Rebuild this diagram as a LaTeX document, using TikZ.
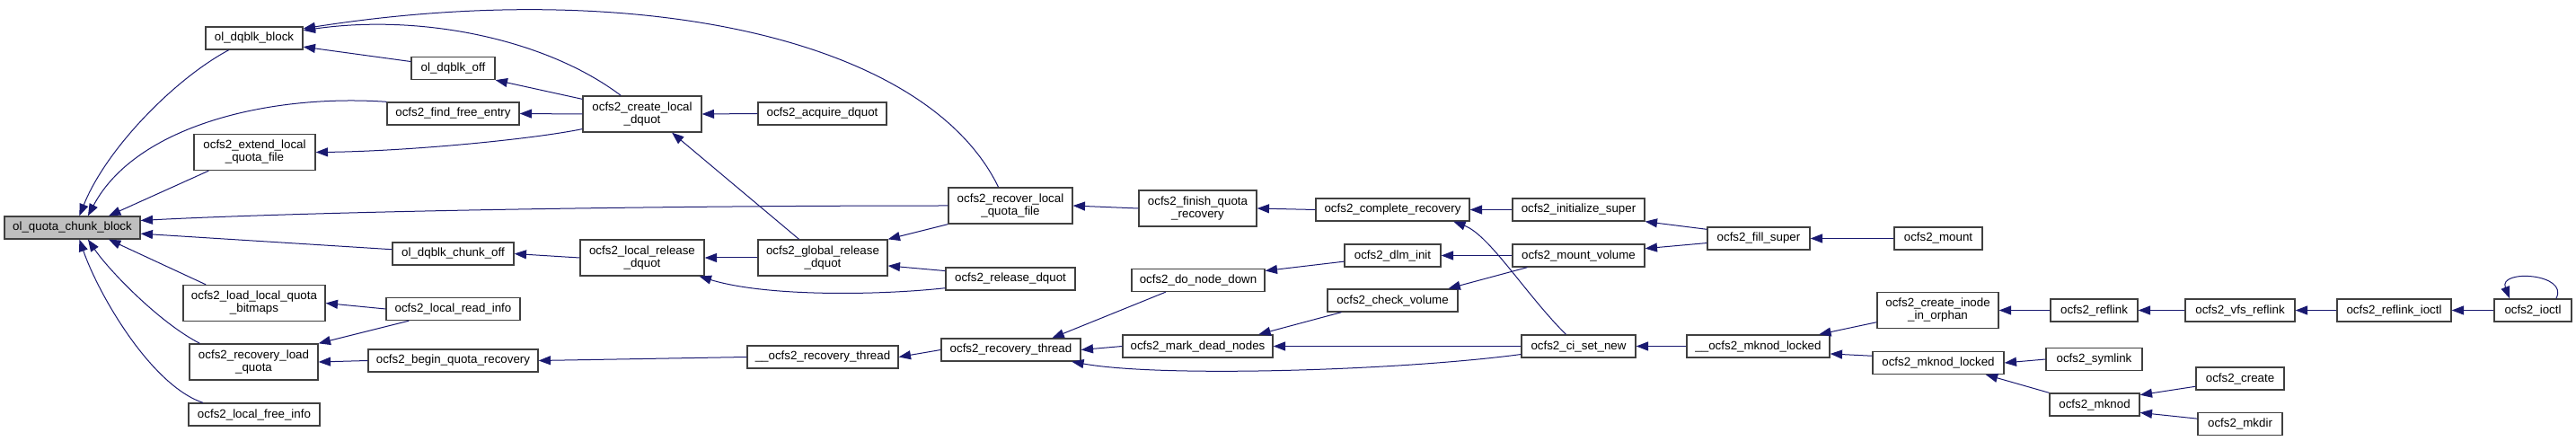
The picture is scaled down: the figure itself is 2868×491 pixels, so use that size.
\documentclass[tikz,border=0pt]{standalone}
\usepackage{fontspec}
\setmainfont{Liberation Sans}
\usetikzlibrary{arrows.meta}
\definecolor{edgeblue}{HTML}{191970}
\definecolor{boxline}{HTML}{404040}
\definecolor{rootgray}{HTML}{BFBFBF}
\begin{document}
\begin{tikzpicture}[x=0.75pt, y=-0.75pt,
    fn/.style={draw=boxline, line width=1pt, fill=white, inner sep=1pt,
      minimum height=18.75pt, align=center, font=\fontsize{10}{10.5}\selectfont},
    fn2/.style={fn, minimum height=30pt},
    wd/.style={minimum width=#1*0.75pt},
    call/.style={draw=edgeblue, line width=0.75pt, -{Triangle[length=10pt,width=7.5pt]}}]
    \useasboundingbox (0,0) rectangle (2868,491);
    \node[fn, wd=151, fill=rootgray] (qcb) at (80.5,253.5) {ol\_quota\_chunk\_block};
    \node[fn, wd=108] (dqblkblock) at (283,42.5) {ol\_dqblk\_block};
    \node[fn2, wd=135] (extendlocal) at (283.5,169.5) {ocfs2\_extend\_local\\\_quota\_file};
    \node[fn2, wd=158] (loadbitmaps) at (283,337.5) {ocfs2\_load\_local\_quota\\\_bitmaps};
    \node[fn2, wd=143] (recoveryload) at (282.5,403) {ocfs2\_recovery\_load\\\_quota};
    \node[fn, wd=146] (localfree) at (283,461.5) {ocfs2\_local\_free\_info};
    \node[fn, wd=93] (dqblkoff) at (504.5,76) {ol\_dqblk\_off};
    \node[fn, wd=147] (findfree) at (504.5,126.5) {ocfs2\_find\_free\_entry};
    \node[fn, wd=135] (chunkoff) at (504.5,282.5) {ol\_dqblk\_chunk\_off};
    \node[fn, wd=149] (readinfo) at (504.5,344) {ocfs2\_local\_read\_info};
    \node[fn, wd=189] (beginrec) at (504.5,401.5) {ocfs2\_begin\_quota\_recovery};
    \node[fn2, wd=132] (createlocal) at (715,127) {ocfs2\_create\_local\\\_dquot};
    \node[fn2, wd=138] (localrelease) at (715,287) {ocfs2\_local\_release\\\_dquot};
    \node[fn, wd=143] (acquire) at (915.5,126.5) {ocfs2\_acquire\_dquot};
    \node[fn2, wd=144] (globalrelease) at (916,287) {ocfs2\_global\_release\\\_dquot};
    \node[fn, wd=168] (recthreadb) at (916,397.5) {\_\_ocfs2\_recovery\_thread};
    \node[fn2, wd=138] (recoverlocal) at (1125,229) {ocfs2\_recover\_local\\\_quota\_file};
    \node[fn, wd=144] (release) at (1125,310.5) {ocfs2\_release\_dquot};
    \node[fn, wd=155] (recthread) at (1125.5,389.5) {ocfs2\_recovery\_thread};
    \node[fn2, wd=131] (finish) at (1333.5,232) {ocfs2\_finish\_quota\\\_recovery};
    \node[fn, wd=148] (nodedown) at (1334,312) {ocfs2\_do\_node\_down};
    \node[fn, wd=167] (markdead) at (1333.5,385.5) {ocfs2\_mark\_dead\_nodes};
    \node[fn, wd=171] (complete) at (1550.5,233.5) {ocfs2\_complete\_recovery};
    \node[fn, wd=107] (dlminit) at (1550.5,284.5) {ocfs2\_dlm\_init};
    \node[fn, wd=145] (checkvol) at (1550.5,334.5) {ocfs2\_check\_volume};
    \node[fn, wd=147] (initsuper) at (1757.5,233.5) {ocfs2\_initialize\_super};
    \node[fn, wd=147] (mountvol) at (1757.5,284.5) {ocfs2\_mount\_volume};
    \node[fn, wd=127] (cisetnew) at (1757.5,385.5) {ocfs2\_ci\_set\_new};
    \node[fn, wd=114] (fillsuper) at (1958,265.5) {ocfs2\_fill\_super};
    \node[fn, wd=159] (mknodlockedb) at (1957.5,385.5) {\_\_ocfs2\_mknod\_locked};
    \node[fn, wd=98] (mount) at (2158,265.5) {ocfs2\_mount};
    \node[fn2, wd=135] (orphan) at (2157.5,345.5) {ocfs2\_create\_inode\\\_in\_orphan};
    \node[fn, wd=146] (mknodlocked) at (2158,404) {ocfs2\_mknod\_locked};
    \node[fn, wd=97] (reflink) at (2331.5,345.5) {ocfs2\_reflink};
    \node[fn, wd=107] (symlink) at (2331.5,400) {ocfs2\_symlink};
    \node[fn, wd=100] (mknod) at (2332,450.5) {ocfs2\_mknod};
    \node[fn, wd=122] (vfsreflink) at (2494,345.5) {ocfs2\_vfs\_reflink};
    \node[fn, wd=98] (create) at (2494,421.5) {ocfs2\_create};
    \node[fn, wd=94] (mkdir) at (2494,472) {ocfs2\_mkdir};
    \node[fn, wd=127] (reflinkioctl) at (2665.5,345.5) {ocfs2\_reflink\_ioctl};
    \node[fn, wd=86] (ioctl) at (2820,345.5) {ocfs2\_ioctl};
    \draw[call] (dqblkblock.205) .. controls +(-60,32) and +(30,-75) .. (qcb.59);
    \draw[call] (findfree.north west) .. controls +(-131,-9) and +(53,-100) .. (qcb.37);
    \draw[call] (extendlocal.202) -- (qcb.18);
    \draw[call] (recoverlocal.west) .. controls +(-400,0) and +(150,-8) .. (qcb.6);
    \draw[call] (chunkoff.176) -- (qcb.-5);
    \draw[call] (loadbitmaps.159) -- (qcb.-18);
    \draw[call] (recoveryload.161) .. controls +(-45,-23) and +(23,34) .. (qcb.-37);
    \draw[call] (localfree.167) .. controls +(-57,-19) and +(22,63) .. (qcb.-59);
    \draw[call] (readinfo.west) -- (loadbitmaps.east);
    \draw[call] (readinfo.195) -- (recoveryload.north east);
    \draw[call] (beginrec.west) -- (recoveryload.east);
    \draw[call] (recoverlocal.123) .. controls +(-82,-169) and +(363,-57) .. (dqblkblock.11);
    \draw[call] (createlocal.139) .. controls +(-82,-62) and +(133,-19) .. (dqblkblock.9);
    \draw[call] (dqblkoff.171) -- (dqblkblock.-10);
    \draw[call] (createlocal.166) -- (dqblkoff.south east);
    \draw[call] (createlocal.west) -- (findfree.east);
    \draw[call] (createlocal.194) .. controls +(-59,12) and +(99,-1) .. (extendlocal.east);
    \draw[call] (acquire.west) -- (createlocal.east);
    \draw[call] (globalrelease.142) -- (createlocal.-32);
    \draw[call] (localrelease.west) -- (chunkoff.east);
    \draw[call] (globalrelease.west) -- (localrelease.east);
    \draw[call] (release.188) .. controls +(-73,8) and +(75,23) .. (localrelease.-18);
    \draw[call] (recoverlocal.south west) -- (globalrelease.north east);
    \draw[call] (release.173) -- (globalrelease.-7);
    \draw[call] (recthreadb.west) -- (beginrec.east);
    \draw[call] (recthread.west) -- (recthreadb.east);
    \draw[call] (finish.west) -- (recoverlocal.east);
    \draw[call] (complete.west) -- (finish.east);
    \draw[call] (initsuper.west) -- (complete.east);
    \draw[call] (cisetnew.137) .. controls +(-45,-45) and +(40,15) .. (complete.-11);
    \draw[call] (nodedown.200) -- (recthread.16);
    \draw[call] (markdead.west) -- (recthread.east);
    \draw[call] (cisetnew.188) .. controls +(-134,18) and +(100,18) .. (recthread.-11);
    \draw[call] (dlminit.187) -- (nodedown.8);
    \draw[call] (checkvol.193) -- (markdead.11);
    \draw[call] (cisetnew.west) -- (markdead.east);
    \draw[call] (mountvol.west) -- (dlminit.east);
    \draw[call] (mountvol.193) -- (checkvol.12);
    \draw[call] (fillsuper.170) -- (initsuper.south east);
    \draw[call] (fillsuper.185) -- (mountvol.6);
    \draw[call] (mount.west) -- (fillsuper.east);
    \draw[call] (mknodlockedb.west) -- (cisetnew.east);
    \draw[call] (orphan.191) -- (mknodlockedb.11);
    \draw[call] (mknodlocked.174) -- (mknodlockedb.-6);
    \draw[call] (reflink.west) -- (orphan.east);
    \draw[call] (symlink.west) -- (mknodlocked.east);
    \draw[call] (mknod.north west) -- (mknodlocked.-14);
    \draw[call] (vfsreflink.west) -- (reflink.east);
    \draw[call] (reflinkioctl.west) -- (vfsreflink.east);
    \draw[call] (ioctl.west) -- (reflinkioctl.east);
    \draw[call] (create.190) -- (mknod.12);
    \draw[call] (mkdir.173) -- (mknod.-10);
    \draw[call] (ioctl.27) .. controls +(15,-28) and +(-13,-33) .. (ioctl.153);
\end{tikzpicture}
\end{document}
